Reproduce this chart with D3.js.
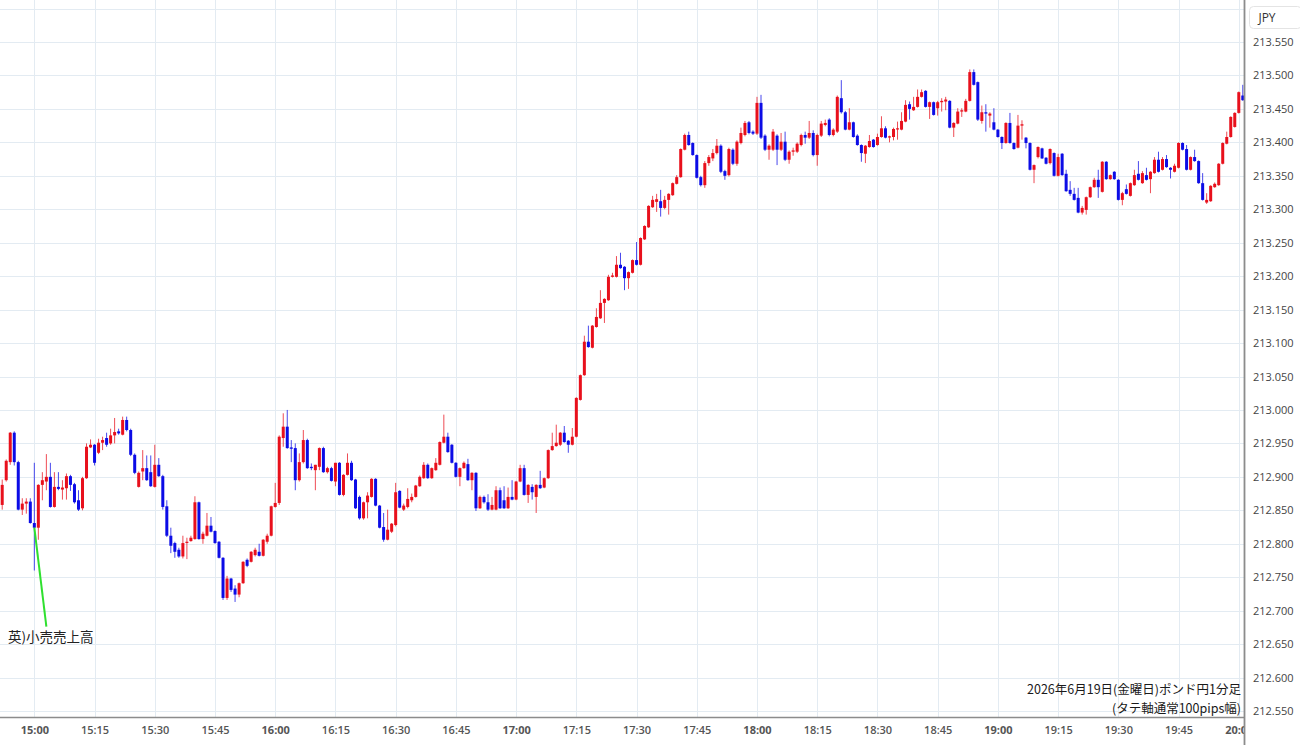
<!DOCTYPE html>
<html>
<head>
<meta charset="utf-8">
<script src="https://cdn.jsdelivr.net/npm/d3@7"></script>
<style>
body { margin: 0; background: #fff; }
</style>
</head>
<body>
<div id="chart"></div>
<script>
// 1-minute GBP/JPY candles, 19 Jun 2026, first bar 14:52
var firstCandle = new Date(2026, 5, 19, 14, 52);

var opens = [
  212.858, 212.895, 212.922, 212.966, 212.922, 212.851, 212.860, 212.863, 212.831, 212.824,
  212.888, 212.893, 212.900, 212.855, 212.885, 212.881, 212.883, 212.901, 212.889, 212.865,
  212.853, 212.898, 212.944, 212.948, 212.936, 212.951, 212.958, 212.950, 212.962, 212.968,
  212.963, 212.985, 212.970, 212.933, 212.885, 212.908, 212.913, 212.907, 212.885, 212.918,
  212.901, 212.856, 212.812, 212.801, 212.791, 212.781, 212.802, 212.804, 212.807, 212.862,
  212.807, 212.812, 212.827, 212.819, 212.803, 212.779, 212.719, 212.748, 212.733, 212.724,
  212.741, 212.776, 212.773, 212.783, 212.788, 212.782, 212.803, 212.812, 212.855, 212.861,
  212.958, 212.975, 212.944, 212.943, 212.895, 212.922, 212.955, 212.915, 212.910, 212.915,
  212.943, 212.907, 212.913, 212.893, 212.921, 212.873, 212.903, 212.921, 212.896, 212.870,
  212.838, 212.862, 212.870, 212.897, 212.857, 212.825, 212.806, 212.818, 212.828, 212.879,
  212.851, 212.855, 212.865, 212.870, 212.886, 212.898, 212.918, 212.898, 212.910, 212.918,
  212.951, 212.960, 212.948, 212.921, 212.900, 212.913, 212.919, 212.895, 212.906, 212.853,
  212.870, 212.862, 212.851, 212.851, 212.880, 212.865, 212.853, 212.870, 212.866, 212.893,
  212.913, 212.873, 212.885, 212.870, 212.888, 212.884, 212.898, 212.940, 212.946, 212.948,
  212.966, 212.954, 212.948, 212.960, 213.015, 213.052, 213.102, 213.093, 213.124, 213.137,
  213.160, 213.164, 213.199, 213.199, 213.217, 213.214, 213.197, 213.205, 213.224, 213.217,
  213.255, 213.273, 213.303, 213.311, 213.312, 213.302, 213.314, 213.321, 213.338, 213.348,
  213.389, 213.411, 213.399, 213.381, 213.348, 213.336, 213.369, 213.376, 213.384, 213.395,
  213.357, 213.351, 213.389, 213.368, 213.399, 213.411, 213.430, 213.416, 213.413, 213.459,
  213.410, 213.389, 213.389, 213.410, 213.389, 213.401, 213.374, 213.386, 213.386, 213.396,
  213.411, 213.407, 213.414, 213.381, 213.410, 213.426, 213.434, 213.411, 213.416, 213.466,
  213.445, 213.419, 213.430, 213.410, 213.396, 213.383, 213.393, 213.404, 213.396, 213.408,
  213.421, 213.408, 213.408, 213.420, 213.419, 213.431, 213.457, 213.448, 213.453, 213.468,
  213.477, 213.453, 213.460, 213.451, 213.460, 213.461, 213.462, 213.422, 213.428, 213.446,
  213.446, 213.462, 213.505, 213.490, 213.432, 213.445, 213.440, 213.430, 213.419, 213.408,
  213.399, 213.429, 213.399, 213.392, 213.425, 213.407, 213.399, 213.359, 213.378, 213.391,
  213.377, 213.369, 213.384, 213.350, 213.383, 213.353, 213.329, 213.323, 213.317, 213.295,
  213.299, 213.318, 213.333, 213.344, 213.326, 213.371, 213.345, 213.356, 213.344, 213.314,
  213.330, 213.320, 213.336, 213.353, 213.339, 213.351, 213.345, 213.354, 213.374, 213.359,
  213.375, 213.362, 213.356, 213.362, 213.399, 213.390, 213.359, 213.378, 213.372, 213.339,
  213.310, 213.312, 213.333, 213.336, 213.368, 213.398, 213.408, 213.423, 213.444, 213.470
];
var highs = [
  212.896, 212.926, 212.967, 212.968, 212.924, 212.868, 212.868, 212.868, 212.921, 212.889,
  212.907, 212.934, 212.921, 212.907, 212.907, 212.895, 212.905, 212.903, 212.891, 212.880,
  212.900, 212.950, 212.956, 212.949, 212.957, 212.960, 212.966, 212.972, 212.988, 212.972,
  212.990, 212.990, 212.972, 212.935, 212.908, 212.940, 212.932, 212.932, 212.948, 212.928,
  212.903, 212.865, 212.824, 212.803, 212.794, 212.812, 212.809, 212.812, 212.871, 212.863,
  212.818, 212.846, 212.840, 212.820, 212.804, 212.780, 212.752, 212.749, 212.738, 212.742,
  212.774, 212.778, 212.789, 212.794, 212.800, 212.807, 212.815, 212.857, 212.891, 212.962,
  212.995, 213.000, 212.955, 212.950, 212.935, 212.970, 212.957, 212.920, 212.918, 212.944,
  212.945, 212.915, 212.915, 212.921, 212.922, 212.904, 212.935, 212.924, 212.897, 212.872,
  212.863, 212.877, 212.898, 212.898, 212.858, 212.846, 212.851, 212.831, 212.891, 212.880,
  212.860, 212.883, 212.875, 212.888, 212.902, 212.922, 212.920, 212.914, 212.928, 212.953,
  212.993, 212.966, 212.949, 212.922, 212.914, 212.923, 212.927, 212.907, 212.907, 212.872,
  212.872, 212.874, 212.870, 212.886, 212.884, 212.886, 212.884, 212.895, 212.894, 212.918,
  212.918, 212.889, 212.889, 212.889, 212.909, 212.899, 212.941, 212.966, 212.978, 212.967,
  212.976, 212.955, 212.973, 213.019, 213.053, 213.111, 213.126, 213.127, 213.152, 213.179,
  213.167, 213.202, 213.205, 213.230, 213.235, 213.215, 213.207, 213.225, 213.251, 213.258,
  213.276, 213.306, 213.320, 213.323, 213.329, 213.320, 213.324, 213.340, 213.351, 213.391,
  213.413, 213.416, 213.400, 213.382, 213.350, 213.372, 213.381, 213.390, 213.405, 213.397,
  213.359, 213.392, 213.391, 213.403, 213.422, 213.432, 213.432, 213.418, 213.468, 213.471,
  213.412, 213.397, 213.420, 213.412, 213.414, 213.416, 213.388, 213.392, 213.400, 213.413,
  213.416, 213.432, 213.418, 213.413, 213.432, 213.434, 213.436, 213.421, 213.470, 213.493,
  213.447, 213.451, 213.431, 213.412, 213.397, 213.396, 213.411, 213.405, 213.413, 213.439,
  213.424, 213.410, 213.422, 213.431, 213.445, 213.463, 213.461, 213.468, 213.479, 213.479,
  213.478, 213.461, 213.461, 213.462, 213.466, 213.468, 213.463, 213.430, 213.451, 213.451,
  213.465, 213.509, 213.509, 213.491, 213.455, 213.457, 213.445, 213.451, 213.420, 213.409,
  213.430, 213.444, 213.400, 213.441, 213.433, 213.408, 213.400, 213.367, 213.394, 213.392,
  213.378, 213.391, 213.385, 213.383, 213.384, 213.359, 213.342, 213.332, 213.332, 213.305,
  213.319, 213.334, 213.347, 213.359, 213.372, 213.372, 213.352, 213.357, 213.345, 213.326,
  213.337, 213.340, 213.359, 213.372, 213.357, 213.362, 213.357, 213.378, 213.386, 213.378,
  213.381, 213.363, 213.368, 213.400, 213.400, 213.396, 213.379, 213.389, 213.373, 213.354,
  213.324, 213.336, 213.340, 213.369, 213.400, 213.416, 213.439, 213.445, 213.476, 213.486
];
var lows = [
  212.851, 212.893, 212.918, 212.917, 212.850, 212.843, 212.845, 212.830, 212.760, 212.806,
  212.865, 212.880, 212.854, 212.854, 212.880, 212.866, 212.866, 212.879, 212.860, 212.849,
  212.850, 212.897, 212.943, 212.917, 212.934, 212.940, 212.945, 212.948, 212.950, 212.963,
  212.962, 212.968, 212.931, 212.904, 212.884, 212.895, 212.894, 212.885, 212.884, 212.900,
  212.851, 212.810, 212.786, 212.779, 212.779, 212.778, 212.777, 212.803, 212.806, 212.806,
  212.800, 212.811, 212.817, 212.800, 212.778, 212.716, 212.716, 212.728, 212.713, 212.720,
  212.740, 212.765, 212.772, 212.781, 212.781, 212.781, 212.800, 212.811, 212.854, 212.858,
  212.945, 212.942, 212.922, 212.880, 212.893, 212.920, 212.912, 212.910, 212.880, 212.910,
  212.906, 212.905, 212.893, 212.886, 212.872, 212.871, 212.902, 212.894, 212.852, 212.836,
  212.836, 212.838, 212.869, 212.856, 212.823, 212.803, 212.805, 212.816, 212.826, 212.853,
  212.849, 212.853, 212.862, 212.869, 212.885, 212.897, 212.897, 212.897, 212.909, 212.917,
  212.950, 212.936, 212.920, 212.899, 212.886, 212.912, 212.894, 212.880, 212.849, 212.852,
  212.860, 212.849, 212.850, 212.850, 212.852, 212.852, 212.852, 212.865, 212.865, 212.892,
  212.872, 212.861, 212.866, 212.846, 212.882, 212.883, 212.897, 212.939, 212.945, 212.946,
  212.951, 212.936, 212.947, 212.959, 213.014, 213.051, 213.093, 213.092, 213.123, 213.136,
  213.130, 213.163, 213.198, 213.198, 213.211, 213.179, 213.181, 213.204, 213.216, 213.216,
  213.254, 213.272, 213.302, 213.296, 213.289, 213.300, 213.292, 213.320, 213.337, 213.347,
  213.388, 213.395, 213.380, 213.346, 213.334, 213.332, 213.365, 213.372, 213.382, 213.354,
  213.344, 213.349, 213.366, 213.365, 213.397, 213.409, 213.412, 213.411, 213.411, 213.405,
  213.387, 213.374, 213.387, 213.366, 213.387, 213.372, 213.368, 213.380, 213.384, 213.394,
  213.398, 213.405, 213.379, 213.365, 213.408, 213.424, 213.409, 213.409, 213.414, 213.443,
  213.418, 213.418, 213.407, 213.395, 213.371, 213.369, 213.392, 213.392, 213.395, 213.407,
  213.406, 213.400, 213.403, 213.404, 213.418, 213.430, 213.434, 213.447, 213.452, 213.467,
  213.452, 213.435, 213.440, 213.440, 213.446, 213.448, 213.421, 213.408, 213.427, 213.438,
  213.445, 213.461, 213.485, 213.432, 213.428, 213.416, 213.422, 213.418, 213.407, 213.390,
  213.398, 213.398, 213.389, 213.391, 213.404, 213.391, 213.358, 213.339, 213.376, 213.375,
  213.367, 213.367, 213.349, 213.349, 213.350, 213.326, 213.320, 213.313, 213.294, 213.292,
  213.292, 213.317, 213.332, 213.317, 213.325, 213.344, 213.344, 213.344, 213.313, 213.306,
  213.322, 213.319, 213.335, 213.343, 213.338, 213.343, 213.324, 213.353, 213.355, 213.358,
  213.362, 213.346, 213.355, 213.361, 213.388, 213.358, 213.358, 213.371, 213.338, 213.313,
  213.308, 213.311, 213.332, 213.335, 213.367, 213.397, 213.407, 213.422, 213.443, 213.462
];
var closes = [
  212.888, 212.924, 212.966, 212.922, 212.851, 212.860, 212.863, 212.831, 212.824, 212.888,
  212.895, 212.900, 212.855, 212.885, 212.882, 212.884, 212.901, 212.888, 212.862, 212.851,
  212.898, 212.945, 212.948, 212.921, 212.951, 212.955, 212.948, 212.962, 212.967, 212.965,
  212.985, 212.970, 212.933, 212.906, 212.906, 212.913, 212.895, 212.886, 212.918, 212.901,
  212.855, 212.812, 212.797, 212.788, 212.781, 212.801, 212.803, 212.809, 212.862, 212.807,
  212.815, 212.827, 212.818, 212.801, 212.779, 212.719, 212.748, 212.731, 212.724, 212.741,
  212.773, 212.767, 212.788, 212.791, 212.782, 212.806, 212.812, 212.856, 212.861, 212.960,
  212.975, 212.943, 212.942, 212.895, 212.922, 212.955, 212.913, 212.913, 212.918, 212.943,
  212.907, 212.913, 212.894, 212.921, 212.873, 212.903, 212.921, 212.895, 212.853, 212.838,
  212.862, 212.872, 212.897, 212.857, 212.824, 212.806, 212.821, 212.830, 212.877, 212.854,
  212.857, 212.867, 212.870, 212.887, 212.900, 212.918, 212.898, 212.913, 212.921, 212.952,
  212.960, 212.937, 212.921, 212.900, 212.913, 212.921, 212.895, 212.906, 212.853, 212.870,
  212.862, 212.851, 212.858, 212.880, 212.853, 212.853, 212.870, 212.866, 212.893, 212.913,
  212.873, 212.888, 212.877, 212.888, 212.883, 212.898, 212.940, 212.946, 212.951, 212.966,
  212.952, 212.948, 212.960, 213.018, 213.052, 213.102, 213.094, 213.126, 213.139, 213.160,
  213.166, 213.199, 213.201, 213.217, 213.212, 213.197, 213.206, 213.224, 213.217, 213.257,
  213.275, 213.305, 213.314, 213.315, 213.302, 213.314, 213.323, 213.339, 213.348, 213.390,
  213.411, 213.396, 213.381, 213.347, 213.336, 213.369, 213.378, 213.384, 213.395, 213.356,
  213.350, 213.390, 213.368, 213.401, 213.414, 213.429, 213.414, 213.413, 213.459, 213.407,
  213.389, 213.395, 213.416, 213.389, 213.401, 213.374, 213.386, 213.388, 213.398, 213.411,
  213.407, 213.414, 213.381, 213.411, 213.428, 213.429, 213.411, 213.419, 213.468, 213.445,
  213.419, 213.430, 213.408, 213.396, 213.384, 213.395, 213.402, 213.393, 213.408, 213.421,
  213.407, 213.409, 213.420, 213.421, 213.432, 213.456, 213.450, 213.453, 213.468, 213.475,
  213.453, 213.460, 213.441, 213.460, 213.462, 213.464, 213.422, 213.429, 213.446, 213.448,
  213.462, 213.505, 213.486, 213.434, 213.445, 213.443, 213.443, 213.419, 213.408, 213.399,
  213.429, 213.399, 213.390, 213.425, 213.427, 213.399, 213.359, 213.366, 213.393, 213.376,
  213.368, 213.390, 213.350, 213.378, 213.351, 213.327, 213.323, 213.314, 213.295, 213.302,
  213.318, 213.333, 213.344, 213.333, 213.371, 213.345, 213.351, 213.345, 213.314, 213.324,
  213.323, 213.339, 213.351, 213.344, 213.354, 213.344, 213.356, 213.374, 213.356, 213.375,
  213.363, 213.359, 213.365, 213.399, 213.389, 213.359, 213.378, 213.372, 213.339, 213.314,
  213.314, 213.335, 213.338, 213.368, 213.399, 213.408, 213.438, 213.444, 213.475, 213.463
];

var priceTicks = [212.55, 212.60, 212.65, 212.70, 212.75, 212.80, 212.85, 212.90, 212.95, 213.00,
  213.05, 213.10, 213.15, 213.20, 213.25, 213.30, 213.35, 213.40, 213.45, 213.50, 213.55];
var timeTicks = ['15:00', '15:15', '15:30', '15:45', '16:00', '16:15', '16:30', '16:45', '17:00',
  '17:15', '17:30', '17:45', '18:00', '18:15', '18:30', '18:45', '19:00', '19:15', '19:30', '19:45', '20:00'];

var eventLabel = '英)小売売上高';
var eventTime = '15:00';
var titleLines = ['2026年6月19日(金曜日)ポンド円1分足', '(タテ軸通常100pips幅)'];

// sizes
var svgWidth = 1300;
var svgHeight = 745;
var plotRight = 1244;
var plotBottom = 717;

var upColor = '#e8101c';
var downColor = '#0c0ce6';
var gridColor = '#e3ebf2';

var svg = d3.select('#chart').append('svg')
  .attr('width', svgWidth)
  .attr('height', svgHeight)
  .style('font-family', '"Open Sans", "Noto Sans", sans-serif');

var parseTime = function(s) {
  var p = s.split(':');
  return new Date(2026, 5, 19, +p[0], +p[1]);
};
var timeDates = timeTicks.map(parseTime);

var x = d3.scaleTime()
  .domain([new Date(2026, 5, 19, 14, 51, 27), new Date(2026, 5, 19, 20, 1, 18)])
  .range([0, plotRight]);
var y = d3.scaleLinear()
  .domain([212.55, 213.55])
  .range([711, 42]);

svg.append('defs').append('clipPath').attr('id', 'plotClip')
  .append('rect').attr('x', 0).attr('y', 0).attr('width', plotRight).attr('height', svgHeight);

// grid
var grid = svg.append('g').attr('clip-path', 'url(#plotClip)');
grid.selectAll('.hgrid')
  .data(priceTicks.concat([213.60]))
  .enter().append('line')
  .attr('x1', 0).attr('x2', plotRight)
  .attr('y1', d => Math.round(y(d)) + 0.5)
  .attr('y2', d => Math.round(y(d)) + 0.5)
  .attr('stroke', gridColor);
grid.selectAll('.vgrid')
  .data(timeDates)
  .enter().append('line')
  .attr('x1', d => Math.round(x(d)) + 0.5)
  .attr('x2', d => Math.round(x(d)) + 0.5)
  .attr('y1', 0).attr('y2', plotBottom)
  .attr('stroke', gridColor);

// candles
var candles = closes.map(function(c, i) {
  return {
    time: d3.timeMinute.offset(firstCandle, i),
    open: opens[i], high: highs[i], low: lows[i], close: c
  };
});

var chart = svg.append('g').attr('clip-path', 'url(#plotClip)');

chart.selectAll('.wick')
  .data(candles)
  .enter().append('line')
  .attr('x1', d => x(d.time))
  .attr('x2', d => x(d.time))
  .attr('y1', d => y(d.high))
  .attr('y2', d => y(d.low))
  .attr('stroke', d => d.close >= d.open ? upColor : downColor)
  .attr('stroke-opacity', 0.75)
  .attr('stroke-width', 1);

chart.selectAll('.body')
  .data(candles)
  .enter().append('rect')
  .attr('x', d => x(d.time) - 1.5)
  .attr('width', 3)
  .attr('y', d => y(Math.max(d.open, d.close)))
  .attr('height', d => Math.max(1.2, Math.abs(y(d.open) - y(d.close))))
  .attr('fill', d => d.close >= d.open ? upColor : downColor);

// event annotation
var evDate = parseTime(eventTime);
var evCandle = candles.find(d => +d.time === +evDate);
svg.append('line')
  .attr('x1', x(evDate))
  .attr('y1', y(evCandle.close))
  .attr('x2', x(d3.timeMinute.offset(evDate, 3)))
  .attr('y2', y(212.676))
  .attr('stroke', '#2fe02f')
  .attr('stroke-width', 2);
svg.append('text')
  .attr('x', 8)
  .attr('y', 642)
  .attr('font-family', '"Noto Sans CJK JP", sans-serif')
  .attr('font-size', '13.5px')
  .attr('fill', '#222')
  .text(eventLabel);

// title block, bottom right of the plot
svg.selectAll('.title')
  .data(titleLines)
  .enter().append('text')
  .attr('x', 1241)
  .attr('y', (d, i) => 694 + i * 18.5)
  .attr('text-anchor', 'end')
  .attr('font-family', '"Noto Sans CJK JP", sans-serif')
  .attr('font-size', '12.5px')
  .attr('fill', '#1a1a1a')
  .text(d => d);

// price axis
var rightAxis = d3.axisRight(y)
  .tickValues(priceTicks)
  .tickSize(0)
  .tickPadding(9)
  .tickFormat(d3.format('.3f'));
var yAxisG = svg.append('g')
  .attr('transform', `translate(${plotRight}, 0)`)
  .call(rightAxis);
yAxisG.select('.domain').remove();
yAxisG.selectAll('text')
  .attr('font-size', '11px')
  .attr('font-family', '"Open Sans", sans-serif')
  .attr('fill', '#444');

// time axis
var bottomAxis = d3.axisBottom(x)
  .tickValues(timeDates)
  .tickSize(0)
  .tickPadding(9)
  .tickFormat(d3.timeFormat('%H:%M'));
var xAxisG = svg.append('g')
  .attr('transform', `translate(0, ${plotBottom})`)
  .attr('clip-path', 'url(#plotClip)')
  .call(bottomAxis);
xAxisG.select('.domain').remove();
xAxisG.selectAll('text')
  .attr('font-size', '11px')
  .attr('font-family', '"Open Sans", sans-serif')
  .attr('font-weight', d => d.getMinutes() === 0 ? 700 : 600)
  .attr('fill', '#555');

// axis borders
svg.append('line')
  .attr('x1', 0).attr('x2', plotRight)
  .attr('y1', plotBottom + 0.5).attr('y2', plotBottom + 0.5)
  .attr('stroke', '#8c8c8c')
  .attr('stroke-width', 1.5);
svg.append('line')
  .attr('x1', plotRight + 0.5).attr('x2', plotRight + 0.5)
  .attr('y1', 0).attr('y2', svgHeight)
  .attr('stroke', '#8c8c8c')
  .attr('stroke-width', 1.8);

// currency box
svg.append('rect')
  .attr('x', 1249.5).attr('y', 6.5)
  .attr('width', 52).attr('height', 22)
  .attr('rx', 4)
  .attr('fill', '#fff')
  .attr('stroke', '#e4e4e4');
svg.append('text')
  .attr('x', 1267)
  .attr('y', 21.5)
  .attr('text-anchor', 'middle')
  .attr('font-size', '12px')
  .attr('fill', '#333')
  .text('JPY');
</script>
</body>
</html>
